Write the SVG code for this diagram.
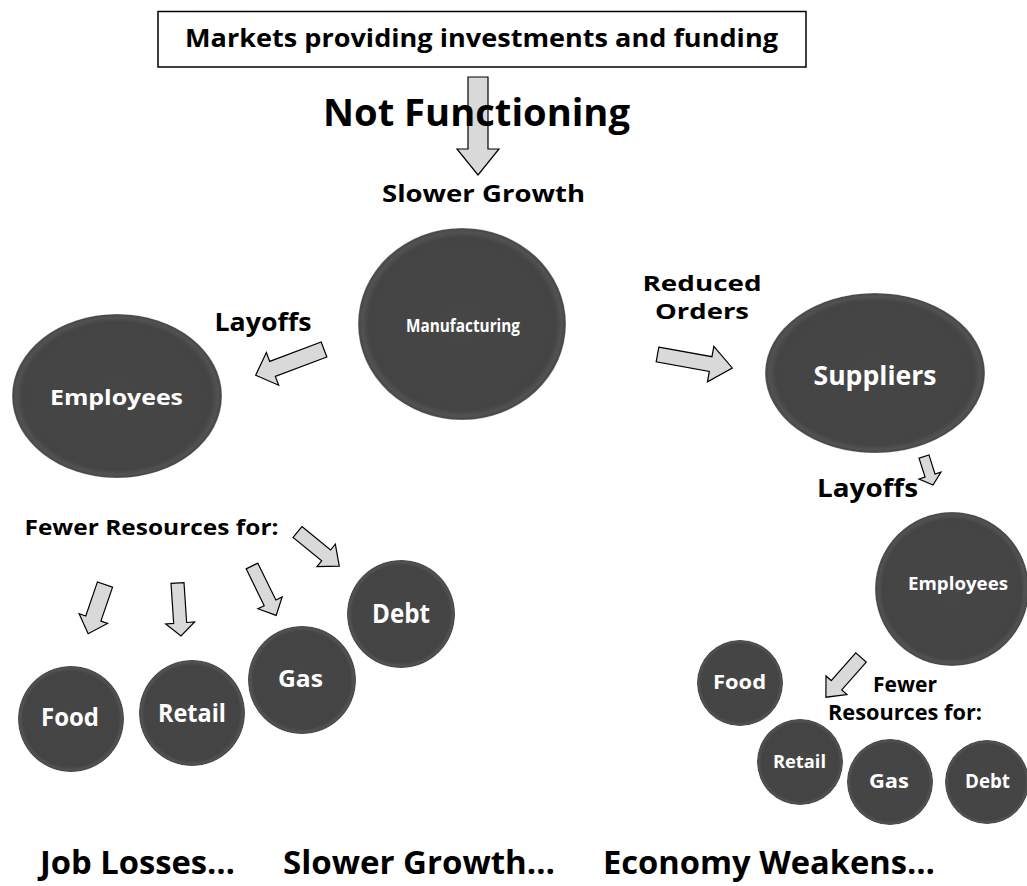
<svg xmlns="http://www.w3.org/2000/svg" width="1027" height="886" viewBox="0 0 1027 886">
<defs>
<radialGradient id="ball" cx="0.5" cy="0.5" r="0.5">
<stop offset="0" stop-color="#464646"/>
<stop offset="0.9" stop-color="#444444"/>
<stop offset="0.96" stop-color="#525252"/>
<stop offset="0.99" stop-color="#484848"/>
<stop offset="1" stop-color="#8a8a8a"/>
</radialGradient>
<style>
text{font-family:"Open Sans","Liberation Sans",sans-serif;font-weight:bold;text-anchor:middle}
.lbl{fill:#000}
.wt{fill:#fff}
.node{fill:url(#ball)}
.arr{fill:#d9d9d9;stroke:#000;stroke-width:1.2;stroke-linejoin:miter}
</style>
</defs>
<rect width="1027" height="886" fill="#fff"/>

<g id="connectors">
<path class="arr" transform="translate(478,77) rotate(90)" d="M0,-10 L72,-10 L72,-21 L98,0 L72,21 L72,10 L0,10 Z"/>
<path class="arr" transform="translate(324,349.5) rotate(159.4)" d="M0,-8 L55,-8 L55,-17.5 L73,0 L55,17.5 L55,8 L0,8 Z"/>
<path class="arr" transform="translate(657.5,354.5) rotate(10.2)" d="M0,-7.5 L54,-7.5 L54,-18 L76,0 L54,18 L54,7.5 L0,7.5 Z"/>
<path class="arr" transform="translate(924,456.5) rotate(72.5)" d="M0,-5.2 L20,-5.2 L20,-11.5 L30,0 L20,11.5 L20,5.2 L0,5.2 Z"/>
<path class="arr" transform="translate(105,584.5) rotate(108.9)" d="M0,-8 L36,-8 L36,-15 L52,0 L36,15 L36,8 L0,8 Z"/>
<path class="arr" transform="translate(177.5,583) rotate(86.2)" d="M0,-6.5 L40,-6.5 L40,-14.5 L53,0 L40,14.5 L40,6.5 L0,6.5 Z"/>
<path class="arr" transform="translate(252,566) rotate(63.9)" d="M0,-6.5 L41,-6.5 L41,-13.5 L55,0 L41,13.5 L41,6.5 L0,6.5 Z"/>
<path class="arr" transform="translate(297.5,532) rotate(39.3)" d="M0,-7 L37,-7 L37,-14.5 L54,0 L37,14.5 L37,7 L0,7 Z"/>
<path class="arr" transform="translate(861,657.5) rotate(131.5)" d="M0,-7 L37,-7 L37,-14 L53,0 L37,14 L37,7 L0,7 Z"/>
</g>

<g id="top-box">
<rect x="158" y="11.5" width="648" height="55.5" fill="#fff" stroke="#000" stroke-width="1.5"/>
<text class="lbl" x="481.5" y="47" font-size="25" textLength="593" lengthAdjust="spacingAndGlyphs">Markets providing investments and funding</text>
</g>

<g id="titles">
<text class="lbl" x="476.5" y="126" font-size="38" textLength="307" lengthAdjust="spacingAndGlyphs">Not Functioning</text>
<text class="lbl" x="483.5" y="202" font-size="24" textLength="203" lengthAdjust="spacingAndGlyphs">Slower Growth</text>
<text class="lbl" x="263" y="331" font-size="25" textLength="97" lengthAdjust="spacingAndGlyphs">Layoffs</text>
<text class="lbl" x="702" y="291" font-size="22" textLength="119" lengthAdjust="spacingAndGlyphs">Reduced</text>
<text class="lbl" x="702" y="319" font-size="22" textLength="94" lengthAdjust="spacingAndGlyphs">Orders</text>
<text class="lbl" x="867.5" y="497" font-size="25" textLength="101" lengthAdjust="spacingAndGlyphs">Layoffs</text>
<text class="lbl" x="151.5" y="535" font-size="22" textLength="254" lengthAdjust="spacingAndGlyphs">Fewer Resources for:</text>
<text class="lbl" x="905" y="692" font-size="21" textLength="64" lengthAdjust="spacingAndGlyphs">Fewer</text>
<text class="lbl" x="905" y="720" font-size="21" textLength="154" lengthAdjust="spacingAndGlyphs">Resources for:</text>
<text class="lbl" x="137.5" y="874" font-size="33" textLength="195" lengthAdjust="spacingAndGlyphs">Job Losses…</text>
<text class="lbl" x="419" y="874" font-size="33" textLength="272" lengthAdjust="spacingAndGlyphs">Slower Growth…</text>
<text class="lbl" x="769" y="874" font-size="33" textLength="332" lengthAdjust="spacingAndGlyphs">Economy Weakens…</text>
</g>

<g id="manufacturing">
<ellipse class="node" cx="462" cy="324" rx="104" ry="96"/>
<text class="wt" x="463" y="332" font-size="18" textLength="114" lengthAdjust="spacingAndGlyphs">Manufacturing</text>
</g>
<g id="employees-left">
<ellipse class="node" cx="117" cy="396" rx="105" ry="82"/>
<text class="wt" x="116.5" y="405" font-size="22" textLength="133" lengthAdjust="spacingAndGlyphs">Employees</text>
</g>
<g id="suppliers">
<ellipse class="node" cx="875" cy="373" rx="110" ry="80"/>
<text class="wt" x="875" y="385" font-size="27" textLength="123" lengthAdjust="spacingAndGlyphs">Suppliers</text>
</g>
<g id="employees-right">
<circle class="node" cx="952" cy="589" r="77"/>
<text class="wt" x="958" y="590" font-size="17" textLength="100" lengthAdjust="spacingAndGlyphs">Employees</text>
</g>
<g id="food-left">
<circle class="node" cx="71" cy="719" r="53"/>
<text class="wt" x="70" y="726" font-size="25" textLength="58" lengthAdjust="spacingAndGlyphs">Food</text>
</g>
<g id="retail-left">
<circle class="node" cx="192" cy="713" r="53"/>
<text class="wt" x="192" y="722" font-size="25" textLength="68" lengthAdjust="spacingAndGlyphs">Retail</text>
</g>
<g id="gas-left">
<circle class="node" cx="302" cy="680" r="54"/>
<text class="wt" x="300.5" y="687" font-size="23" textLength="45" lengthAdjust="spacingAndGlyphs">Gas</text>
</g>
<g id="debt-left">
<circle class="node" cx="401" cy="614" r="54"/>
<text class="wt" x="401" y="623" font-size="26" textLength="58" lengthAdjust="spacingAndGlyphs">Debt</text>
</g>
<g id="food-right">
<circle class="node" cx="740" cy="683" r="43"/>
<text class="wt" x="739.5" y="689" font-size="20" textLength="53" lengthAdjust="spacingAndGlyphs">Food</text>
</g>
<g id="retail-right">
<circle class="node" cx="800" cy="762" r="43"/>
<text class="wt" x="799.5" y="768" font-size="18" textLength="53" lengthAdjust="spacingAndGlyphs">Retail</text>
</g>
<g id="gas-right">
<circle class="node" cx="890" cy="782" r="43"/>
<text class="wt" x="889" y="788" font-size="20" textLength="40" lengthAdjust="spacingAndGlyphs">Gas</text>
</g>
<g id="debt-right">
<circle class="node" cx="987" cy="782" r="42"/>
<text class="wt" x="987.5" y="788" font-size="19" textLength="45" lengthAdjust="spacingAndGlyphs">Debt</text>
</g>
</svg>
